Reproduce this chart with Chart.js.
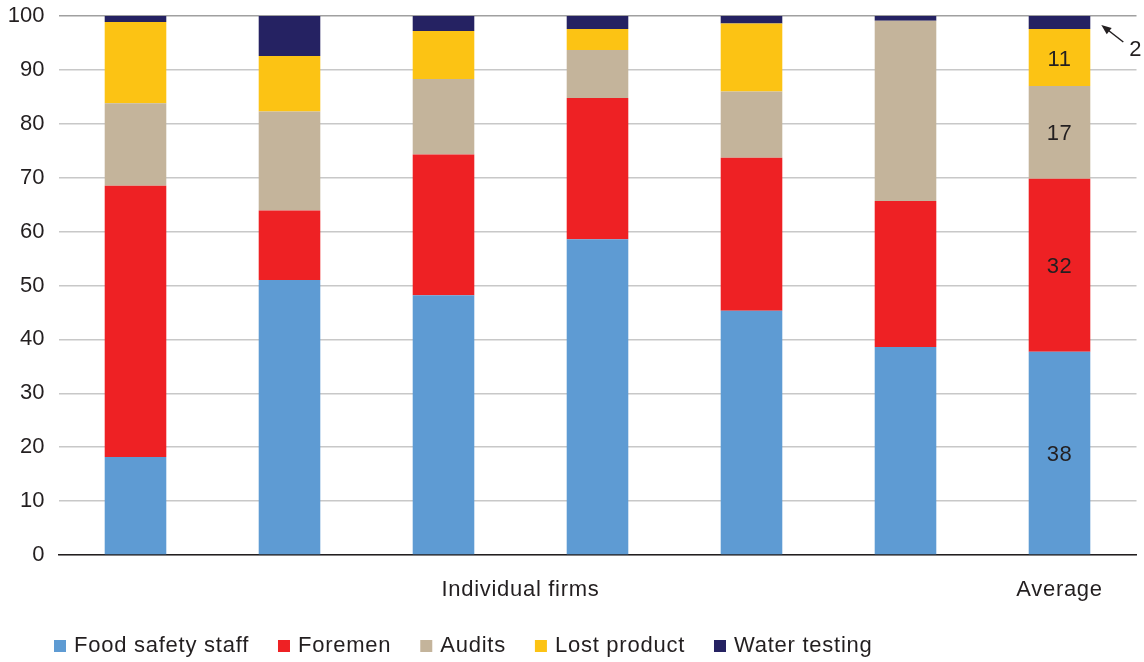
<!DOCTYPE html>
<html>
<head>
<meta charset="utf-8">
<script src="https://cdn.jsdelivr.net/npm/chart.js@4"></script>
<style>
  html, body { margin: 0; padding: 0; background: #ffffff; }
  #wrap { width: 1144px; height: 662px; position: relative; }
</style>
</head>
<body>
<div id="wrap"><canvas id="c" width="1144" height="662"></canvas></div>
<script>
// ---- data ----
const categories = ['Firm 1', 'Firm 2', 'Firm 3', 'Firm 4', 'Firm 5', 'Firm 6', 'Average'];
const xTickLabels = ['', '', '', '', '', '', 'Average'];
const groupLabel = 'Individual firms';
const seriesNames = ['Food safety staff', 'Foremen', 'Audits', 'Lost product', 'Water testing'];
const foodSafetyStaff = [18.2, 51.0, 48.2, 58.6, 45.3, 38.6, 37.7];
const foremen         = [50.3, 12.9, 26.1, 26.2, 28.4, 27.1, 32.1];
const audits          = [15.3, 18.4, 14.0,  8.9, 12.3, 33.4, 17.2];
const lostProduct     = [15.1, 10.3,  8.9,  3.9, 12.6,  0.0, 10.6];
const waterTesting    = [ 1.1,  7.4,  2.8,  2.4,  1.4,  0.9,  2.4];
const yMin = 0, yMax = 100, yStep = 10;

const seriesColors = ['#5e9bd3', '#ee2124', '#c4b49b', '#fcc314', '#252262'];
const textColor = '#231f20';
const FONT = "'Liberation Sans', Arial, Helvetica, sans-serif";

const seriesData = [foodSafetyStaff, foremen, audits, lostProduct, waterTesting];

const averageLabelsPlugin = {
  id: 'avgLabels',
  afterDatasetsDraw(chart) {
    const ctx = chart.ctx;
    const idx = categories.length - 1;
    ctx.save();
    ctx.fillStyle = textColor;
    ctx.font = '22px ' + FONT;
    ctx.textAlign = 'center';
    ctx.textBaseline = 'middle';
    ctx.letterSpacing = '0.6px';
    for (let i = 0; i < 4; i++) {
      const el = chart.getDatasetMeta(i).data[idx];
      const v = chart.data.datasets[i].data[idx];
      ctx.fillText(String(Math.round(v)), el.x, (el.y + el.base) / 2 + 2);
    }
    // water testing annotation with arrow
    const el = chart.getDatasetMeta(4).data[idx];
    const v = chart.data.datasets[4].data[idx];
    const tipX = el.x + el.width / 2 + 11;
    const tipY = (el.y + el.base) / 2 + 2.5;
    const tailX = tipX + 22, tailY = tipY + 17;
    ctx.strokeStyle = textColor;
    ctx.lineWidth = 1.5;
    ctx.beginPath();
    ctx.moveTo(tailX, tailY);
    ctx.lineTo(tipX + 4, tipY + 3);
    ctx.stroke();
    const ang = Math.atan2(tipY - tailY, tipX - tailX);
    const L = 10, W = 4;
    ctx.beginPath();
    ctx.moveTo(tipX, tipY);
    ctx.lineTo(tipX - L * Math.cos(ang) + W * Math.sin(ang), tipY - L * Math.sin(ang) - W * Math.cos(ang));
    ctx.lineTo(tipX - L * Math.cos(ang) - W * Math.sin(ang), tipY - L * Math.sin(ang) + W * Math.cos(ang));
    ctx.closePath();
    ctx.fill();
    ctx.textAlign = 'left';
    ctx.fillText(String(Math.round(v)), tipX + 28, tipY + 25);
    ctx.restore();
  }
};

const xLabelsPlugin = {
  id: 'xLabels',
  afterDraw(chart) {
    const xs = chart.scales.x;
    const ctx = chart.ctx;
    const yText = xs.top + 35;
    ctx.save();
    ctx.fillStyle = textColor;
    ctx.font = '22px ' + FONT;
    ctx.textAlign = 'center';
    ctx.textBaseline = 'middle';
    ctx.letterSpacing = '0.7px';
    const x0 = xs.getPixelForValue(0), x1 = xs.getPixelForValue(categories.length - 2);
    ctx.fillText(groupLabel, (x0 + x1) / 2, yText);
    xTickLabels.forEach((lab, i) => {
      if (lab) ctx.fillText(lab, xs.getPixelForValue(i), yText);
    });
    ctx.restore();
  }
};

const legendPlugin = {
  id: 'customLegend',
  afterDraw(chart) {
    const ctx = chart.ctx;
    ctx.save();
    ctx.font = '22px ' + FONT;
    ctx.textBaseline = 'middle';
    ctx.letterSpacing = '0.75px';
    let x = 54;
    const y = 646;
    chart.data.datasets.forEach(ds => {
      ctx.fillStyle = ds.backgroundColor;
      ctx.fillRect(x, y - 6, 12, 12);
      ctx.fillStyle = textColor;
      ctx.textAlign = 'left';
      ctx.fillText(ds.label, x + 20, y);
      x += 20 + ctx.measureText(ds.label).width + 29;
    });
    ctx.restore();
  }
};

new Chart(document.getElementById('c'), {
  type: 'bar',
  data: {
    labels: categories,
    datasets: seriesNames.map((name, i) => ({
      label: name,
      data: seriesData[i],
      backgroundColor: seriesColors[i],
      borderWidth: 0,
      barPercentage: 0.4,
      categoryPercentage: 1.0
    }))
  },
  options: {
    responsive: false,
    animation: false,
    devicePixelRatio: 1,
    layout: { padding: { top: 16, left: 0, right: 7.5, bottom: 0 } },
    plugins: {
      legend: { display: false },
      tooltip: { enabled: false }
    },
    scales: {
      x: {
        stacked: true,
        grid: { display: false, drawTicks: false },
        border: { display: true, color: textColor, width: 1.5 },
        ticks: { display: false },
        afterFit(scale) { scale.height = 107; scale.paddingLeft = 0; scale.paddingRight = 0; }
      },
      y: {
        stacked: true,
        min: yMin, max: yMax,
        grid: {
          drawTicks: false,
          lineWidth: 1.5,
          color: (c) => c.tick && c.tick.value === yMax ? '#a0a0a0' : '#c8c8c8'
        },
        border: { display: false },
        ticks: { stepSize: yStep, color: textColor, font: { size: 22, family: FONT }, padding: 14 },
        afterFit(scale) { scale.width = 58.5; scale.paddingTop = 0; scale.paddingBottom = 0; }
      }
    }
  },
  plugins: [averageLabelsPlugin, xLabelsPlugin, legendPlugin]
});
</script>
</body>
</html>
